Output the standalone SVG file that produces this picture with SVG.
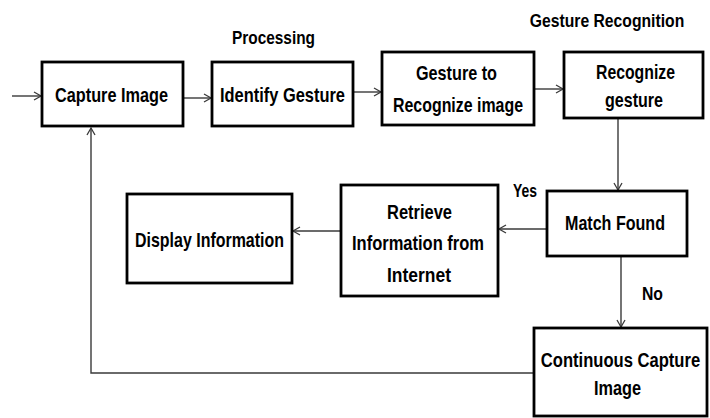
<svg xmlns="http://www.w3.org/2000/svg" width="710" height="418" viewBox="0 0 710 418">
<style>
.box{fill:#fff;stroke:#000;stroke-width:2.8}
.t{font-family:"Liberation Sans",Arial,sans-serif;font-weight:bold;font-size:21px;fill:#000}
.lbl{font-family:"Liberation Sans",Arial,sans-serif;font-weight:bold;font-size:18.5px;fill:#000}
.c{fill:none;stroke:#3a3a3a;stroke-width:1.4}
</style>
<defs>
<marker id="ah" markerUnits="userSpaceOnUse" markerWidth="12" markerHeight="12" refX="8" refY="5" orient="auto">
<path d="M1,1 L8,5 L1,9" fill="none" stroke="#3a3a3a" stroke-width="1.3"/>
</marker>
</defs>
<rect width="710" height="418" fill="#fff"/>
<g id="connectors">
<line class="c" x1="12" y1="96" x2="41" y2="96" marker-end="url(#ah)"/>
<line class="c" x1="184" y1="98" x2="211" y2="98" marker-end="url(#ah)"/>
<line class="c" x1="354" y1="92" x2="381" y2="92" marker-end="url(#ah)"/>
<line class="c" x1="535" y1="89" x2="563" y2="89" marker-end="url(#ah)"/>
<line class="c" x1="618" y1="118" x2="618" y2="190" marker-end="url(#ah)"/>
<line class="c" x1="546" y1="229" x2="499" y2="229" marker-end="url(#ah)"/>
<line class="c" x1="340" y1="231" x2="293" y2="231" marker-end="url(#ah)"/>
<line class="c" x1="621" y1="257" x2="621" y2="327" marker-end="url(#ah)"/>
<polyline class="c" points="534,373 91,373 91,128" marker-end="url(#ah)"/>
</g>
<g id="capture-image">
<rect class="box" x="42" y="62" width="141" height="64"/>
<text class="t" x="55" y="102" textLength="113" lengthAdjust="spacingAndGlyphs">Capture Image</text>
</g>
<g id="identify-gesture">
<rect class="box" x="212" y="62" width="141" height="64"/>
<text class="t" x="220" y="102" textLength="125" lengthAdjust="spacingAndGlyphs">Identify Gesture</text>
</g>
<g id="gesture-to-recognize">
<rect class="box" x="382" y="52" width="152" height="73"/>
<text class="t" x="416" y="80" textLength="81" lengthAdjust="spacingAndGlyphs">Gesture to</text>
<text class="t" x="393" y="112" textLength="130" lengthAdjust="spacingAndGlyphs">Recognize  image</text>
</g>
<g id="recognize-gesture">
<rect class="box" x="564" y="52" width="139" height="66"/>
<text class="t" x="596" y="79" textLength="79" lengthAdjust="spacingAndGlyphs">Recognize</text>
<text class="t" x="605" y="107" textLength="58" lengthAdjust="spacingAndGlyphs">gesture</text>
</g>
<g id="match-found">
<rect class="box" x="547" y="191" width="140" height="65"/>
<text class="t" x="565" y="230" textLength="100" lengthAdjust="spacingAndGlyphs">Match Found</text>
</g>
<g id="retrieve-information">
<rect class="box" x="341" y="185" width="157" height="111"/>
<text class="t" x="387" y="219" textLength="65" lengthAdjust="spacingAndGlyphs">Retrieve</text>
<text class="t" x="352" y="250" textLength="132" lengthAdjust="spacingAndGlyphs">Information from</text>
<text class="t" x="387" y="282" textLength="64" lengthAdjust="spacingAndGlyphs">Internet</text>
</g>
<g id="display-information">
<rect class="box" x="127" y="194" width="165" height="89"/>
<text class="t" x="135" y="247" textLength="149" lengthAdjust="spacingAndGlyphs">Display Information</text>
</g>
<g id="continuous-capture">
<rect class="box" x="534" y="328" width="173" height="88"/>
<text class="t" text-anchor="middle" transform="translate(620.5,367) scale(0.79,1)">Continuous Capture</text>
<text class="t" x="594" y="395" textLength="47" lengthAdjust="spacingAndGlyphs">Image</text>
</g>
<g id="labels">
<text class="lbl" x="232" y="44" textLength="83" lengthAdjust="spacingAndGlyphs">Processing</text>
<text class="lbl" text-anchor="middle" transform="translate(607,27) scale(0.85,1)">Gesture Recognition</text>
<text class="lbl" x="513" y="197" textLength="24" lengthAdjust="spacingAndGlyphs">Yes</text>
<text class="lbl" x="642" y="300" textLength="21" lengthAdjust="spacingAndGlyphs">No</text>
</g>
</svg>
